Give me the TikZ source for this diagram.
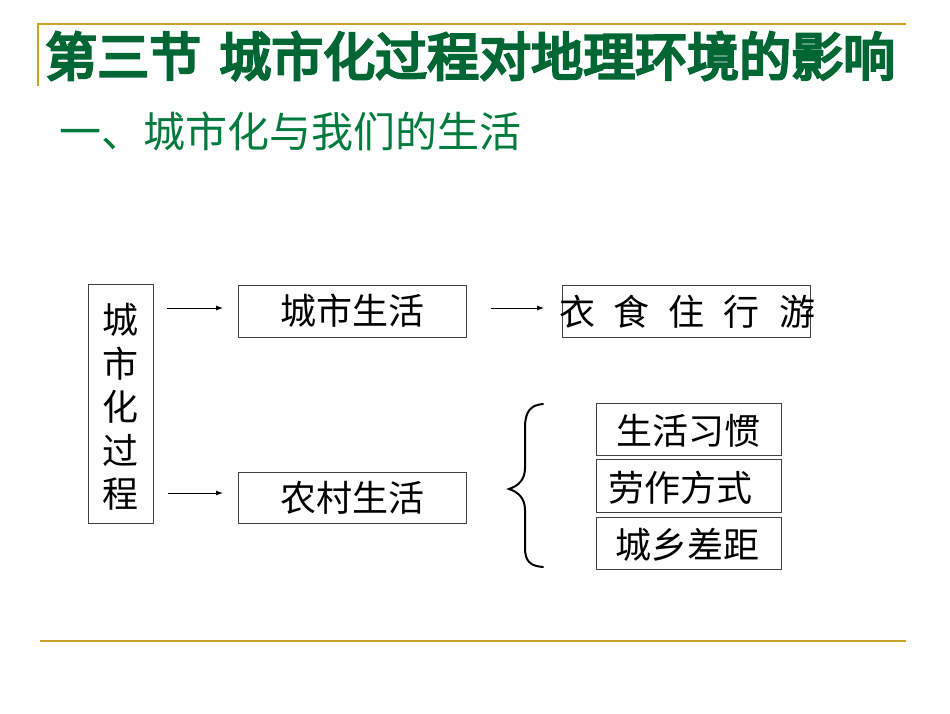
\documentclass[tikz,border=0pt]{standalone}
\usepackage{fontspec}
\newfontfamily\cjk{Noto Sans CJK SC}
\newfontfamily\cjkbold[FakeBold=5]{Noto Sans CJK SC}
\usetikzlibrary{arrows.meta}
\definecolor{titlegreen}{HTML}{006633}
\definecolor{subgreen}{HTML}{007A3D}
\definecolor{gold}{HTML}{C9A227}
\begin{document}
\begin{tikzpicture}[x=1pt,y=-1pt,
  box/.style={draw=black!75,line width=0.9pt,inner sep=0pt},
  boxtext/.style={font=\cjk\fontsize{36}{40}\selectfont},
  titletext/.style={anchor=west,inner sep=0pt,text=titlegreen,font=\cjkbold\fontsize{52}{54}\selectfont},
  arr/.style={line width=0.9pt,-{Latex[length=7pt,width=5pt]}},
  ]
\useasboundingbox (0,0) rectangle (950,713);
% frame lines
\coordinate (tl) at (38,24);
\coordinate (tr) at (906,24);
\coordinate (bl) at (38,86);
\draw[gold,line width=2pt] (bl) -- (tl) -- (tr);
\coordinate (fl) at (40,641);
\coordinate (fr) at (906,641);
\draw[gold,line width=2pt] (fl) -- (fr);
% title
\node[titletext] (t1) at (45,56) {第三节};
\node[titletext] (t2) at (219,56) {城市化过程对地理环境的影响};
\node[anchor=west,inner sep=0pt,text=subgreen,font=\cjk\fontsize{42}{44}\selectfont] (sub) at (59,131) {一、城市化与我们的生活};
% boxes
\node[box,minimum width=65pt,minimum height=239pt] (proc) at (120.5,403.5) {};
\node[boxtext,align=center,font=\cjk\fontsize{36}{43.5}\selectfont] (proctext) at (120.5,407) {城\\市\\化\\过\\程};
\node[box,minimum width=228pt,minimum height=52pt] (city) at (352,311) {};
\node[boxtext] at (city.center) {城市生活};
\node[box,minimum width=228pt,minimum height=51pt] (rural) at (352,497.5) {};
\node[boxtext] at (rural.center) {农村生活};
\node[box,minimum width=248pt,minimum height=52pt] (life) at (686,311) {};
\node[boxtext] (lifetext) at (687,312) {衣\hspace{19pt}食\hspace{19pt}住\hspace{19pt}行\hspace{19pt}游};
\node[box,minimum width=185pt,minimum height=52pt] (habit) at (688.5,429) {};
\node[boxtext] at (688,431) {生活习惯};
\node[box,minimum width=185pt,minimum height=53pt] (work) at (688.5,485.5) {};
\node[boxtext] at (680,488) {劳作方式};
\node[box,minimum width=185pt,minimum height=52pt] (gap) at (688.5,543) {};
\node[boxtext] at (687,545) {城乡差距};
% arrows
\coordinate (a1s) at (167,308);
\coordinate (a2s) at (168,493);
\coordinate (a3s) at (491,308);
\draw[arr] (a1s) -- (223,308) coordinate (a1e);
\draw[arr] (a2s) -- (223,493) coordinate (a2e);
\draw[arr] (a3s) -- (544,308) coordinate (a3e);
% brace
\coordinate (btop) at (543,404);
\coordinate (btip) at (509,489);
\coordinate (bbot) at (543,567);
\draw[line width=2pt,line cap=round] (btop) .. controls (530,405) and (525,412) .. (525,428)
  -- (525,468) .. controls (525,480) and (518,486) .. (btip)
  .. controls (518,492) and (525,498) .. (525,510)
  -- (525,548) .. controls (525,561) and (530,566) .. (bbot);
\end{tikzpicture}
\end{document}
